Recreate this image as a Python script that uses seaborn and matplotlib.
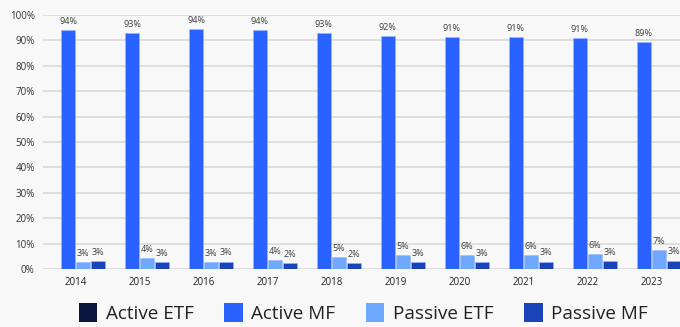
import matplotlib
matplotlib.use("Agg")
import matplotlib.pyplot as plt
import seaborn as sns
import pandas as pd
import numpy as np
from matplotlib.patches import Patch

years = ["2014", "2015", "2016", "2017", "2018", "2019", "2020", "2021", "2022", "2023"]
series_names = ["Active ETF", "Active MF", "Passive ETF", "Passive MF"]
active_etf = [0, 0, 0, 0, 0, 0, 0, 0, 0, 0]
active_mf = [94.1, 93.0, 94.4, 94.2, 92.8, 91.8, 91.4, 91.4, 91.0, 89.2]
passive_etf = [2.8, 4.3, 2.8, 3.5, 4.7, 5.4, 5.6, 5.5, 6.0, 7.4]
passive_mf = [3.1, 2.6, 2.9, 2.2, 2.4, 2.8, 2.8, 2.9, 3.0, 3.3]
colors = ["#0b1640", "#2962ff", "#6fa8ff", "#1a43b8"]

df = pd.DataFrame({
    "Year": years * 4,
    "Type": sum([[n] * len(years) for n in series_names], []),
    "Share": active_etf + active_mf + passive_etf + passive_mf,
})

sns.set_theme(style="white")
plt.rcParams["font.family"] = ["Open Sans", "DejaVu Sans"]

fig = plt.figure(figsize=(6.8, 3.27), dpi=100)
fig.patch.set_facecolor("#f8f8f8")
ax = fig.add_axes([43 / 680, 1 - 269 / 327, (680 - 43) / 680, 254 / 327])
ax.set_facecolor("#f8f8f8")

sns.barplot(data=df, x="Year", y="Share", hue="Type", hue_order=series_names,
            palette=colors, saturation=1, width=0.94, gap=0.05, ax=ax, legend=False,
            edgecolor="#9ab8ff", linewidth=0.4)

for cont, name in zip(ax.containers, series_names):
    if name == "Active ETF":
        continue
    ax.bar_label(cont, labels=[f"{v:.0f}%" for v in cont.datavalues],
                 padding=3, fontsize=6.5, color="#404040")

ax.set_ylim(0, 100)
ax.set_xlim(-0.51, 9.45)
ax.set_yticks(np.arange(0, 101, 10))
ax.set_yticklabels([f"{t}%" for t in range(0, 101, 10)], fontsize=7, color="#333333")
ax.tick_params(axis="x", labelsize=7, colors="#222222", pad=6, length=0)
ax.tick_params(axis="y", length=0, pad=6)
ax.grid(axis="y", color="#d9d9d9", linewidth=1.2)
ax.set_axisbelow(True)
for s in ax.spines.values():
    s.set_visible(False)
ax.set_xlabel("")
ax.set_ylabel("")

handles = [Patch(facecolor=c, edgecolor="none") for c in colors]
fig.legend(handles, series_names, loc="center", bbox_to_anchor=(0.534, 1 - 313 / 327),
           ncol=4, frameon=False, fontsize=13.6, handlelength=1.0, handleheight=1.15,
           handletextpad=0.45, columnspacing=1.6, labelcolor="#222222")

fig.savefig("out.png", dpi=100, facecolor=fig.get_facecolor())
